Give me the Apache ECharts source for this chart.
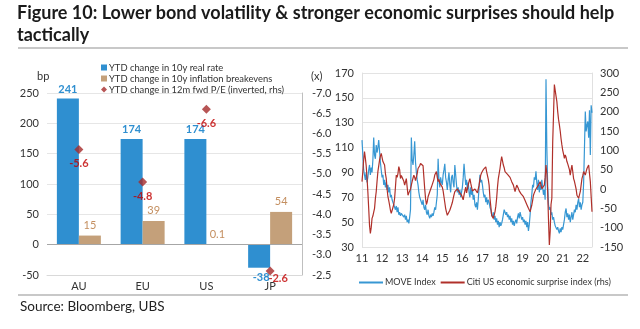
<!DOCTYPE html>
<html><head><meta charset="utf-8">
<script src="https://cdn.jsdelivr.net/npm/echarts@6/dist/echarts.min.js"></script>
<style>html,body{margin:0;padding:0;background:#fff}#c{width:640px;height:329px}</style>
</head><body><div id="c"></div>
<script>
// ---- Left panel data ----
const regions = ['AU', 'EU', 'US', 'JP'];
const realRate = [241, 174, 174, -38];
const breakevens = [15, 39, 0.1, 54];
const fwdPE = [-5.6, -4.8, -6.6, -2.6];

// ---- Right panel data (twice a month, Jan 2011 - Jun 2022) ----
const moveIndex = [
  116, 104, 92, 88, 84, 90, 82, 86, 92, 96, 88, 94, 90, 100, 118, 104, 101, 112, 106, 110, 116, 107, 98, 92,
  86, 88, 80, 84, 78, 82, 76, 80, 74, 78, 70, 72, 68, 66, 64, 62, 60, 63, 58, 62, 56, 58, 55, 57,
  56, 58, 54, 56, 52, 55, 50, 52, 49, 54, 60, 118, 100, 96, 104, 115, 98, 90, 84, 80, 74, 70, 68, 66,
  64, 68, 62, 60, 64, 58, 56, 60, 55, 53, 56, 54, 57, 55, 58, 62, 60, 66, 72, 101, 84, 78, 86, 82,
  80, 88, 92, 97, 86, 82, 76, 84, 90, 80, 74, 86, 88, 82, 78, 96, 88, 80, 74, 78, 72, 76, 70, 74,
  78, 86, 97, 88, 80, 84, 76, 82, 74, 70, 78, 72, 76, 68, 72, 64, 62, 66, 60, 68, 78, 88, 82, 84,
  80, 74, 70, 72, 66, 70, 64, 68, 66, 62, 60, 56, 54, 58, 52, 55, 50, 53, 48, 51, 46, 50, 47, 49,
  52, 56, 60, 61, 56, 58, 54, 56, 52, 55, 50, 53, 48, 51, 47, 50, 52, 49, 54, 57, 53, 58, 55, 52,
  54, 50, 52, 48, 51, 46, 50, 43, 48, 56, 66, 72, 80, 78, 86, 84, 91, 82, 76, 84, 74, 80, 76, 84,
  78, 72, 76, 68, 165, 110, 80, 64, 60, 62, 56, 58, 52, 54, 50, 47, 48, 44, 46, 43, 41, 45, 42, 46,
  44, 48, 52, 58, 61, 54, 57, 52, 56, 50, 54, 58, 52, 56, 60, 58, 64, 60, 66, 69, 62, 66, 60, 64,
  66, 82, 110, 139, 123, 128, 131, 118, 140, 104, 144, 138
];
const citiSurprise = [
  19, 45, 75, 97, 80, 60, 30, -7, -50, -94, -115, -100, -76, -70, -60, -50, -25, -7, 20, 45, 60, 75, 85, 92,
  88, 71, 66, 62, 40, 27, 0, -20, -30, -42, -55, -63, -58, -60, -40, -24, 5, 36, 30, 40, 58, 50, 27, 35,
  30, 36, 20, 10, 15, 27, 5, -16, -10, -7, 0, 10, 20, 28, 36, 30, 22, 27, 40, 53, 50, 60, 66, 71,
  70, 60, 30, 0, -25, -40, -33, -20, -15, -7, -10, 5, 0, 10, 25, 36, 40, 45, 30, 19, 25, 15, 12, 10,
  5, -5, -20, -35, -50, -60, -68, -72, -65, -55, -50, -42, -35, -25, -15, -7, -10, -5, 0, 1, -5, -10, -12, -16,
  -20, -28, -15, -5, 5, -10, 0, 10, 20, 27, 15, 5, -5, -10, -7, 0, 1, -5, -10, -7, 10, 25, 36, 42,
  45, 50, 48, 53, 57, 45, 40, 25, 10, -24, -45, -68, -70, -76, -72, -59, -45, -24, 5, 27, 40, 53, 70, 84,
  80, 62, 55, 45, 40, 45, 38, 42, 36, 30, 25, 19, 15, 10, 5, -7, 2, 10, 5, 1, -5, -10, -12, -16,
  -16, -20, -24, -30, -35, -40, -45, -50, -55, -59, -50, -42, -30, -16, -10, -5, 0, 1, 5, 10, 15, 19, 10, 1,
  5, 1, 10, 30, 62, 40, -7, -80, -145, -110, -40, -24, 120, 192, 270, 255, 240, 226, 200, 180, 166, 150, 130, 114,
  100, 90, 79, 88, 82, 71, 65, 62, 50, 36, 50, 62, 45, 27, 20, 10, 0, -16, -20, -24, -15, -7, 10, 27,
  35, 45, 40, 36, 45, 53, 58, 62, 40, 19, -20, -59
];
const dates = [];
for (let y = 2011; y <= 2022; y++) {
  for (let m = 1; m <= 12; m++) {
    if (y === 2022 && m > 6) break;
    const mm = (m < 10 ? '0' : '') + m;
    dates.push(y + '-' + mm + '-01', y + '-' + mm + '-15');
  }
}

const FONT = 'Lato';
const BLUE = '#2f8fd0', TAN = '#c4a07a', DRED = '#a52a2a', LRED = '#c00000';
const LBLUE = '#3797d3', CRED = '#b0302a';

const chart = echarts.init(document.getElementById('c'), null, {renderer: 'canvas'});
chart.setOption({
  animation: false,
  textStyle: {fontFamily: FONT},
  graphic: [
    {type: 'text', left: 17, top: 4, style: {text: 'Figure 10: Lower bond volatility & stronger economic surprises should help', font: 'bold 18px Lato', fill: '#1a1a1a'}},
    {type: 'text', left: 17, top: 26, style: {text: 'tactically', font: 'bold 18px Lato', fill: '#1a1a1a'}},
    {type: 'line', shape: {x1: 18, y1: 48, x2: 628, y2: 48}, style: {stroke: '#c8c8c8', lineWidth: 2}},
    {type: 'line', shape: {x1: 18, y1: 295, x2: 628, y2: 295}, style: {stroke: '#c8c8c8', lineWidth: 2}},
    {type: 'text', left: 20, top: 300, style: {text: 'Source: Bloomberg, UBS', font: '13.5px Lato', fill: '#222'}},
    {type: 'text', left: 37, top: 71, style: {text: 'bp', font: '11px Lato', fill: '#333'}},
    {type: 'text', left: 311, top: 71, style: {text: '(x)', font: '11px Lato', fill: '#333'}}
  ],
  legend: [
    {
      orient: 'vertical', left: 96, top: 58, itemWidth: 6, itemHeight: 6, itemGap: 2,
      textStyle: {fontSize: 9.4, color: '#333', padding: [0, 0, 0, -3]},
      data: [
        {name: 'YTD change in 10y real rate', icon: 'rect'},
        {name: 'YTD change in 10y inflation breakevens', icon: 'rect'},
        {name: 'YTD change in 12m fwd P/E (inverted, rhs)', icon: 'diamond'}
      ]
    },
    {
      left: 354, top: 273, width: 285, itemWidth: 24, itemHeight: 2, itemGap: 5,
      textStyle: {fontSize: 9, color: '#333', padding: [0, 0, 0, -3]},
      data: [
        {name: 'MOVE Index', icon: 'rect'},
        {name: 'Citi US economic surprise index (rhs)', icon: 'rect'}
      ]
    }
  ],
  grid: [
    {left: 47, top: 93, width: 255, height: 182},
    {left: 362, top: 73, width: 230, height: 174}
  ],
  xAxis: [
    {
      gridIndex: 0, type: 'category', data: regions,
      axisLine: {onZero: false, lineStyle: {color: '#d9d9d9'}},
      axisTick: {show: false},
      axisLabel: {color: '#333', fontSize: 11, margin: 6}
    },
    {
      gridIndex: 1, type: 'category', data: dates, boundaryGap: false,
      axisLine: {lineStyle: {color: '#d9d9d9'}},
      axisTick: {show: false},
      axisLabel: {
        color: '#333', fontSize: 11, margin: 6,
        interval: (i, v) => v.endsWith('-01-01'),
        formatter: v => v.slice(2, 4)
      }
    }
  ],
  yAxis: [
    {
      gridIndex: 0, type: 'value', min: -50, max: 250, interval: 50,
      axisLine: {show: false}, axisTick: {show: false},
      axisLabel: {color: '#333', fontSize: 11, margin: 8},
      splitLine: {lineStyle: {color: '#e6e6e6'}}
    },
    {
      gridIndex: 0, type: 'value', inverse: true, min: -7, max: -2.5, interval: 0.5,
      position: 'right',
      axisLine: {show: true, lineStyle: {color: '#bfbfbf'}}, axisTick: {show: false},
      axisLabel: {color: '#333', fontSize: 11, margin: 10, formatter: v => v.toFixed(1)},
      splitLine: {show: false}
    },
    {
      gridIndex: 1, type: 'value', min: 30, max: 170, interval: 20,
      axisLine: {show: true, lineStyle: {color: '#e0e0e0'}}, axisTick: {show: false},
      axisLabel: {color: '#333', fontSize: 11, margin: 8},
      splitLine: {lineStyle: {color: '#e3e3e3'}}
    },
    {
      gridIndex: 1, type: 'value', min: -150, max: 300, interval: 50, position: 'right',
      axisLine: {show: true, lineStyle: {color: '#e0e0e0'}}, axisTick: {show: false},
      axisLabel: {color: '#333', fontSize: 11, margin: 8},
      splitLine: {show: false}
    }
  ],
  series: [
    {
      name: 'YTD change in 10y real rate', type: 'bar', xAxisIndex: 0, yAxisIndex: 0,
      barWidth: 22, barGap: '0%',
      itemStyle: {color: BLUE},
      data: realRate.map(v => v < 0 ? {value: v, label: {position: 'bottom', offset: [2, 0]}} : v),
      label: {show: true, position: 'top', color: BLUE, fontWeight: 'bold', fontSize: 11, distance: 4},
      markLine: {
        silent: true, symbol: 'none', label: {show: false},
        lineStyle: {color: '#a6a6a6', type: 'solid', width: 1},
        data: [{yAxis: 0}]
      }
    },
    {
      name: 'YTD change in 10y inflation breakevens', type: 'bar', xAxisIndex: 0, yAxisIndex: 0,
      barWidth: 22, barGap: '0%',
      itemStyle: {color: TAN},
      data: breakevens,
      label: {show: true, position: 'top', color: '#c48f60', fontSize: 11, distance: 5}
    },
    {
      name: 'YTD change in 12m fwd P/E (inverted, rhs)', type: 'scatter', xAxisIndex: 0, yAxisIndex: 1,
      symbol: 'diamond', symbolSize: 9,
      itemStyle: {color: DRED},
      data: fwdPE.map((v, i) => i === 3 ? {value: v, label: {position: 'bottom', offset: [8, -7]}} : v),
      label: {show: true, position: 'bottom', color: LRED, fontWeight: 'bold', fontSize: 11, distance: 4},
      z: 5
    },
    {
      name: 'MOVE Index', type: 'line', xAxisIndex: 1, yAxisIndex: 2,
      data: moveIndex, symbol: 'none', lineStyle: {color: LBLUE, width: 1.2}, itemStyle: {color: LBLUE}
    },
    {
      name: 'Citi US economic surprise index (rhs)', type: 'line', xAxisIndex: 1, yAxisIndex: 3,
      data: citiSurprise, symbol: 'none', lineStyle: {color: CRED, width: 1.2}, itemStyle: {color: CRED}
    }
  ]
});
</script>
</body></html>
